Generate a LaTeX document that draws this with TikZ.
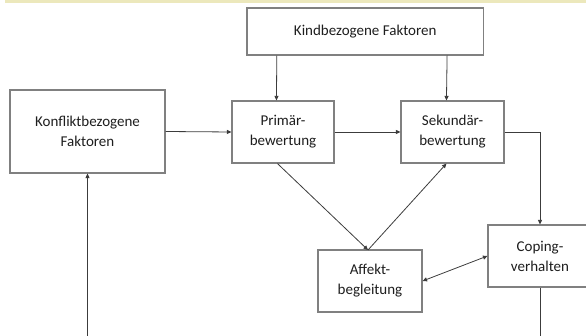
\documentclass[tikz,border=0pt]{standalone}
\usepackage{fontspec}
\setmainfont{Carlito}
\usetikzlibrary{arrows.meta}
\definecolor{band}{RGB}{236,232,188}
\definecolor{boxline}{RGB}{128,128,128}
\definecolor{conline}{RGB}{60,60,60}
\definecolor{txt}{RGB}{30,30,30}
\tikzset{
  box/.style={draw=boxline, line width=1.1pt, fill=white, inner sep=0pt, align=center,
    font=\fontsize{15}{20}\selectfont, text=txt},
  con/.style={draw=conline, line width=0.8pt, -{Triangle[length=4.5pt,width=4pt]}},
  bicon/.style={draw=conline, line width=0.8pt, {Triangle[length=4.5pt,width=4pt]}-{Triangle[length=4.5pt,width=4pt]}},
  plain/.style={draw=conline, line width=0.8pt}
}
\begin{document}
\begin{tikzpicture}[x=1pt,y=-1pt]
\useasboundingbox (0,0) rectangle (586,336);
\begin{scope}
\clip (0,0) rectangle (586,336);
\fill[band] (5,0) rectangle (586,3.5);
\node[box, minimum width=236.5pt, minimum height=47pt] (kind) at (365.2,31.5) {Kindbezogene Faktoren};
\node[box, minimum width=155pt, minimum height=83pt] (konf) at (87.5,131.5) {Konfliktbezogene\\Faktoren};
\node[box, minimum width=102pt, minimum height=62pt] (prim) at (283,132) {Primär-\\bewertung};
\node[box, minimum width=103pt, minimum height=62pt] (sek) at (452.5,132) {Sekundär-\\bewertung};
\node[box, minimum width=104pt, minimum height=62pt] (aff) at (370,281) {Affekt-\\begleitung};
\node[box, minimum width=104pt, minimum height=62pt] (cop) at (540,256) {Coping-\\verhalten};
\coordinate (copend) at (540,336);
\coordinate (konfstart) at (87.5,336);
\coordinate (meet) at (368,250);

\draw[con] ([xshift=30.4pt]kind.south west) -- ([xshift=45pt]prim.north west);
\draw[con] ([xshift=200.7pt]kind.south west) -- ([xshift=46pt]sek.north west);
\draw[con] (konf.east) -- (prim.west);
\draw[con] (prim.east) -- (sek.west);
\draw[con] (sek.east) -| (cop.north);
\draw[con] ([xshift=46pt]prim.south west) -- (meet);
\draw[con] (meet) -- ([xshift=46pt]sek.south west);
\draw[bicon] (aff.east) -- (cop.west);
\draw[plain] (cop.south) -- (copend);
\draw[con] (konfstart) -- (konf.south);
\end{scope}
\end{tikzpicture}
\end{document}
